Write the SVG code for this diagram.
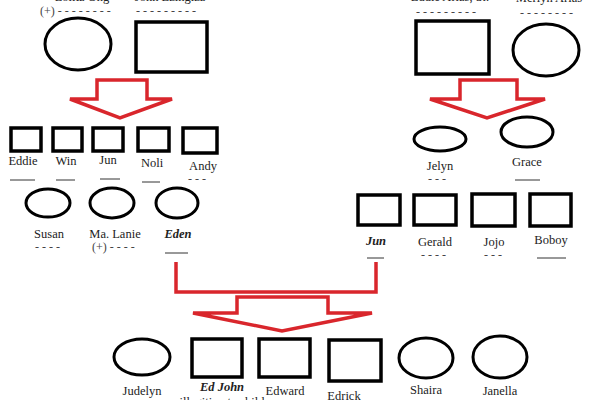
<svg xmlns="http://www.w3.org/2000/svg" width="600" height="400" viewBox="0 0 600 400">
<style>
.n{fill:#fff;stroke:#000;stroke-width:3.5}
.e{fill:#fff;stroke:#000;stroke-width:3}
.t{font-family:"Liberation Serif","Times New Roman",serif;font-size:12.5px;fill:#222;text-anchor:middle}
.b{font-weight:bold;font-style:italic}
.d{font-family:"Liberation Serif","Times New Roman",serif;font-size:12px;fill:#444}
.u{stroke:#333;stroke-width:1}
.r{fill:#fff;stroke:#d9262c;stroke-width:3.5;stroke-linejoin:miter}
</style>
<rect width="600" height="400" fill="#fff"/>
<g id="connectors">
<polygon class="r" points="97,80 147,80 147,99 172,99 120,118 70,99 97,99"/>
<polygon class="r" points="460,80 517,80 517,99 545,99 487,118 430,99 460,99"/>
<polyline class="r" fill="none" points="176,262 176,292 376,292 376,262" style="fill:none"/>
<polygon class="r" points="237,297 328,297 328,313 372,313 282,331 193,313 237,313"/>
</g>
<g id="gp1">
<ellipse class="e" cx="78" cy="44" rx="33" ry="26"/>
<text class="t" x="82" y="1">Lolita Ong</text>
<text class="d" x="40" y="15">(+) - - - - - - - -</text>
</g>
<g id="gp2">
<rect class="n" x="136" y="22" width="71" height="50"/>
<text class="t" x="170" y="1">John Ezingiza</text>
<text class="d" x="136" y="15">- - - - - - - - -</text>
</g>
<g id="gp3">
<rect class="n" x="416" y="21" width="73" height="53"/>
<text class="t" x="450" y="1">Eddie Arias, Sr.</text>
<text class="d" x="416" y="16">- - - - - - - - -</text>
</g>
<g id="gp4">
<ellipse class="e" cx="546" cy="50" rx="33" ry="26"/>
<text class="t" x="549" y="2">Merlyn Arias</text>
<text class="d" x="520" y="17">- - - - - - - -</text>
</g>
<g id="eddie"><rect class="n" x="11" y="128" width="30" height="23"/><text class="t" x="23" y="165">Eddie</text><line class="u" x1="10" y1="180" x2="35" y2="180"/></g>
<g id="win"><rect class="n" x="53" y="128" width="29" height="23"/><text class="t" x="66" y="165">Win</text><line class="u" x1="56" y1="180" x2="75" y2="180"/></g>
<g id="jun1"><rect class="n" x="93" y="128" width="30" height="23"/><text class="t" x="108" y="164">Jun</text><line class="u" x1="100" y1="179" x2="120" y2="179"/></g>
<g id="noli"><rect class="n" x="138" y="128" width="31" height="23"/><text class="t" x="152" y="167">Noli</text><line class="u" x1="142" y1="182" x2="160" y2="182"/></g>
<g id="andy"><rect class="n" x="183" y="128" width="34" height="25"/><text class="t" x="203" y="170">Andy</text><text class="d" x="188" y="183">- - -</text></g>
<g id="susan"><ellipse class="e" cx="48" cy="203" rx="22" ry="14"/><text class="t" x="49" y="238">Susan</text><text class="d" x="35" y="251">- - - -</text></g>
<g id="lanie"><ellipse class="e" cx="112" cy="203" rx="22" ry="15"/><text class="t" x="115" y="238">Ma. Lanie</text><text class="d" x="92" y="251">(+) - - - -</text></g>
<g id="eden"><ellipse class="e" cx="177" cy="203" rx="21" ry="15"/><text class="t b" x="178" y="238">Eden</text><line class="u" x1="165" y1="253" x2="188" y2="253"/></g>
<g id="jelyn"><ellipse class="e" cx="440" cy="139" rx="26" ry="12"/><text class="t" x="440" y="170">Jelyn</text><text class="d" x="428" y="183">- - -</text></g>
<g id="grace"><ellipse class="e" cx="527" cy="132" rx="26" ry="15"/><text class="t" x="527" y="166">Grace</text><line class="u" x1="515" y1="180" x2="540" y2="180"/></g>
<g id="jun2"><rect class="n" x="358" y="195" width="42" height="30"/><text class="t b" x="376" y="245">Jun</text><line class="u" x1="367" y1="258" x2="384" y2="258"/></g>
<g id="gerald"><rect class="n" x="414" y="195" width="42" height="30"/><text class="t" x="435" y="246">Gerald</text><text class="d" x="421" y="259">- - - -</text></g>
<g id="jojo"><rect class="n" x="472" y="194" width="43" height="32"/><text class="t" x="494" y="246">Jojo</text><text class="d" x="484" y="259">- - -</text></g>
<g id="boboy"><rect class="n" x="530" y="194" width="41" height="32"/><text class="t" x="551" y="244">Boboy</text><line class="u" x1="537" y1="258" x2="566" y2="258"/></g>
<g id="judelyn"><ellipse class="e" cx="142" cy="357" rx="28" ry="18"/><text class="t" x="142" y="395">Judelyn</text></g>
<g id="edjohn"><rect class="n" x="192" y="339" width="50" height="38"/><text class="t b" x="222" y="391">Ed John</text><text class="t" x="222" y="406">illegitimate child</text></g>
<g id="edward"><rect class="n" x="259" y="339" width="51" height="38"/><text class="t" x="285" y="395">Edward</text></g>
<g id="edrick"><rect class="n" x="329" y="340" width="52" height="41"/><text class="t" x="344" y="400">Edrick</text></g>
<g id="shaira"><ellipse class="e" cx="426" cy="358" rx="27" ry="20"/><text class="t" x="426" y="394">Shaira</text></g>
<g id="janella"><ellipse class="e" cx="500" cy="357" rx="27" ry="21"/><text class="t" x="500" y="395">Janella</text></g>
</svg>
